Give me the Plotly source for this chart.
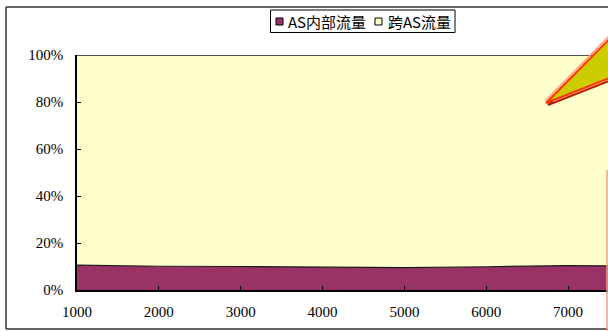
import plotly.graph_objects as go

# Traffic volume (x) and share of traffic by type, in percent
volume = [1000, 2000, 3000, 4000, 5000, 6000, 7000, 8000]
intra_as_pct = [10.6, 10.1, 10.0, 9.6, 9.5, 9.9, 10.4, 10.2]
inter_as_pct = [89.4, 89.9, 90.0, 90.4, 90.5, 90.1, 89.6, 89.8]
x_ticks = [1000, 2000, 3000, 4000, 5000, 6000, 7000]
y_ticks = [0, 20, 40, 60, 80, 100]
y_tick_labels = ["0%", "20%", "40%", "60%", "80%", "100%"]
series_names = ["AS内部流量", "跨AS流量"]

W, H = 608, 331
L, T, B, R = 77, 55, 41, 0
PW, PH = W - L - R, H - T - B


def px(x):
    return (x - L) / PW


def py(y):
    return (H - B - y) / PH


FONT = "Liberation Serif, Noto Sans CJK SC, serif"
CJK_FONT = "Noto Sans CJK SC, Liberation Serif, serif"
PURPLE = "#993366"
CREAM = "#FFFFCC"

fig = go.Figure()
fig.add_trace(go.Scatter(
    x=volume, y=intra_as_pct, stackgroup="s", mode="lines",
    line=dict(color="#1a1a1a", width=1.2), fillcolor=PURPLE,
    name=series_names[0], showlegend=False, hoverinfo="skip"))
fig.add_trace(go.Scatter(
    x=volume, y=inter_as_pct, stackgroup="s", mode="lines",
    line=dict(color="#555555", width=2), fillcolor=CREAM,
    name=series_names[1], showlegend=False, hoverinfo="skip"))

shapes = []
annotations = []

# outer chart frame (left, top, bottom edges)
frame = dict(type="line", xref="paper", yref="paper",
             line=dict(color="#333333", width=1.5))
shapes.append(dict(frame, x0=px(6), x1=px(6), y0=py(7), y1=py(329)))
shapes.append(dict(frame, x0=px(6), x1=px(W + 5), y0=py(7), y1=py(7)))
shapes.append(dict(frame, x0=px(6), x1=px(W + 5), y0=py(329), y1=py(329)))

# legend box with swatches and labels
shapes.append(dict(type="rect", xref="paper", yref="paper",
                   x0=px(270.5), x1=px(455), y0=py(10), y1=py(32.5),
                   fillcolor="white", line=dict(color="#000000", width=1)))
legend_items = [(276, 286, PURPLE, series_names[0]),
                (375, 386, CREAM, series_names[1])]
for sx, tx, col, label in legend_items:
    shapes.append(dict(type="rect", xref="paper", yref="paper",
                       x0=px(sx), x1=px(sx + 7), y0=py(18), y1=py(25),
                       fillcolor=col, line=dict(color="#000000", width=1)))
    annotations.append(dict(xref="paper", yref="paper", x=px(tx), y=py(21.5),
                            xanchor="left", yanchor="middle", showarrow=False,
                            text=label, font=dict(family=CJK_FONT, size=15, color="#000000")))

# callout pointer
tip = (546, 103)
p_up = (640, 8)
p_lo = (640, 66)
path = (f"M {px(tip[0])},{py(tip[1])} L {px(p_up[0])},{py(p_up[1])} "
        f"L {px(p_lo[0])},{py(p_lo[1])} Z")
shapes.append(dict(type="path", xref="paper", yref="paper",
                   path=(f"M {px(tip[0]+2)},{py(tip[1]+2)} L {px(p_up[0]+2)},{py(p_up[1]+2)} "
                         f"L {px(p_lo[0]+2)},{py(p_lo[1]+2)} Z"),
                   fillcolor="rgba(0,0,0,0)", line=dict(color="#B22200", width=2)))
shapes.append(dict(type="path", xref="paper", yref="paper", path=path,
                   fillcolor="#CCCC00", line=dict(color="#FF3300", width=2)))
shapes.append(dict(type="path", xref="paper", yref="paper",
                   path=(f"M {px(tip[0]-1)},{py(tip[1]-2)} L {px(p_up[0]-1)},{py(p_up[1]-2)}"),
                   line=dict(color="#FF9977", width=1.5)))
# callout box edge
shapes.append(dict(type="line", xref="paper", yref="paper",
                   x0=px(607), x1=px(607), y0=py(170), y1=py(335),
                   line=dict(color="#F0A080", width=1.5)))

fig.update_layout(
    width=W, height=H,
    margin=dict(l=L, r=R, t=T, b=B),
    paper_bgcolor="white", plot_bgcolor="white",
    font=dict(family=FONT, size=15, color="#000000"),
    showlegend=False,
    xaxis=dict(range=[1000, 1000 + PW / 81.85 * 1000], tickvals=x_ticks,
               ticks="inside", ticklen=4, tickcolor="#000000",
               showgrid=False, zeroline=False, showline=True,
               linecolor="#000000", linewidth=1.5, ticklabelstandoff=7,
               tickfont=dict(family=FONT, size=15)),
    yaxis=dict(range=[0, 100], tickvals=y_ticks, ticktext=y_tick_labels,
               ticks="inside", ticklen=4, tickcolor="#000000",
               showgrid=False, zeroline=False, showline=True,
               linecolor="#000000", linewidth=1.5, ticklabelstandoff=9,
               tickfont=dict(family=FONT, size=15)),
    shapes=shapes,
    annotations=annotations,
)

fig.write_html("out.html")
